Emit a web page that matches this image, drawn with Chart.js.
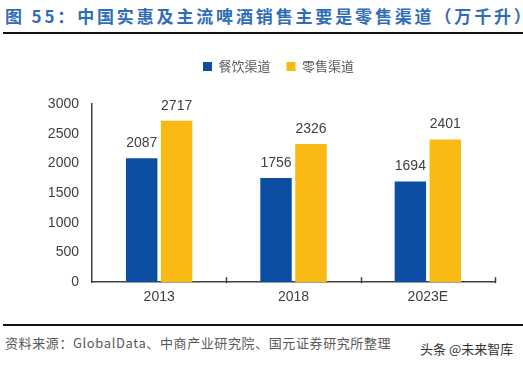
<!DOCTYPE html>
<html>
<head>
<meta charset="utf-8">
<script src="https://cdn.jsdelivr.net/npm/chart.js@4.4.1/dist/chart.umd.min.js"></script>
<style>
  body { margin: 0; background: #fff; width: 523px; height: 366px; overflow: hidden; position: relative; font-family: "Noto Sans CJK SC", sans-serif; }
  #title { position: absolute; left: 5px; top: 5px; font-size: 17px; line-height: 22px; font-weight: bold; color: #2F6DB6; letter-spacing: 2.85px; white-space: nowrap; }
  .rule { position: absolute; left: 3px; right: 0; height: 2px; background: #111; }
  #chartBox { position: absolute; left: 0; top: 40px; width: 523px; height: 275px; }
  #source { position: absolute; left: 5px; top: 334px; font-size: 13px; line-height: 18px; color: #595959; letter-spacing: 0.6px; white-space: nowrap; }
  #mark { position: absolute; left: 420px; top: 340px; font-size: 13px; line-height: 18px; color: #333; white-space: nowrap; }
</style>
</head>
<body>
<div id="title">图 55：中国实惠及主流啤酒销售主要是零售渠道（万千升）</div>
<div class="rule" style="top:32px"></div>
<div id="chartBox"><canvas id="beerChart"></canvas></div>
<div class="rule" style="top:324px"></div>
<div id="source">资料来源：GlobalData、中商产业研究院、国元证券研究所整理</div>
<div id="mark">头条 @未来智库</div>
<script>
// 数据
const years = ['2013', '2018', '2023E'];
const cateringData = [2087, 1756, 1694];   // 餐饮渠道
const retailData = [2717, 2326, 2401];     // 零售渠道

const textColor = '#404040';
const axisColor = '#404040';

// bar value labels
const valueLabels = {
    id: 'valueLabels',
    afterDatasetsDraw(chart) {
        const ctx = chart.ctx;
        ctx.save();
        ctx.font = '14px Arial, "Liberation Sans"';
        ctx.fillStyle = textColor;
        ctx.textAlign = 'center';
        ctx.textBaseline = 'middle';
        chart.data.datasets.forEach((ds, i) => {
            chart.getDatasetMeta(i).data.forEach((bar, j) => {
                ctx.fillText(ds.data[j], bar.x, bar.y - 15);
            });
        });
        ctx.restore();
    }
};

// small inward ticks between categories
const innerTicks = {
    id: 'innerTicks',
    afterDraw(chart) {
        const x = chart.scales.x;
        const ctx = chart.ctx;
        const step = (x.right - x.left) / years.length;
        ctx.save();
        ctx.strokeStyle = axisColor;
        ctx.lineWidth = 1.5;
        for (let i = 1; i <= years.length; i++) {
            const px = Math.round(x.left + step * i) + 0.5;
            ctx.beginPath();
            ctx.moveTo(px, x.top - 5);
            ctx.lineTo(px, x.top + 1);
            ctx.stroke();
        }
        ctx.restore();
    }
};

// extra room under the legend
const legendGap = {
    id: 'legendGap',
    beforeInit(chart) {
        const fit = chart.legend.fit;
        chart.legend.fit = function () {
            fit.bind(chart.legend)();
            this.height += 21;
        };
    }
};

new Chart(document.getElementById('beerChart'), {
    type: 'bar',
    data: {
        labels: years,
        datasets: [{
            label: '餐饮渠道',
            data: cateringData,
            backgroundColor: '#0C4EA4',
            barPercentage: 0.9,
            categoryPercentage: 0.52
        }, {
            label: '零售渠道',
            data: retailData,
            backgroundColor: '#F8B912',
            barPercentage: 0.9,
            categoryPercentage: 0.52
        }]
    },
    options: {
        responsive: true,
        maintainAspectRatio: false,
        animation: false,
        layout: { padding: { top: 4, left: 34, right: 0, bottom: 2 } },
        plugins: {
            legend: {
                position: 'top',
                labels: {
                    boxWidth: 9,
                    boxHeight: 9,
                    padding: 16,
                    color: '#595959',
                    font: { size: 13, family: '"Noto Sans CJK SC"' }
                }
            },
            tooltip: { enabled: false }
        },
        scales: {
            x: {
                grid: { display: false, drawTicks: false },
                border: { color: axisColor, width: 1.5 },
                ticks: { color: textColor, font: { size: 14, family: 'Arial, "Liberation Sans"' }, padding: 7 }
            },
            y: {
                min: 0,
                max: 3000,
                afterFit(scale) { scale.width = 58; },
                grid: { display: false, drawTicks: false },
                border: { color: axisColor, width: 1.5 },
                ticks: {
                    stepSize: 500,
                    color: textColor,
                    font: { size: 14, family: 'Arial, "Liberation Sans"' },
                    padding: 13,
                    callback: (v) => String(v)
                }
            },
            // empty right-hand spacer so the plot ends where the reference does
            spacer: {
                position: 'right',
                afterFit(scale) { scale.width = 28; },
                grid: { display: false, drawTicks: false },
                border: { display: false },
                ticks: { display: false }
            }
        }
    },
    plugins: [valueLabels, innerTicks, legendGap]
});
</script>
</body>
</html>
